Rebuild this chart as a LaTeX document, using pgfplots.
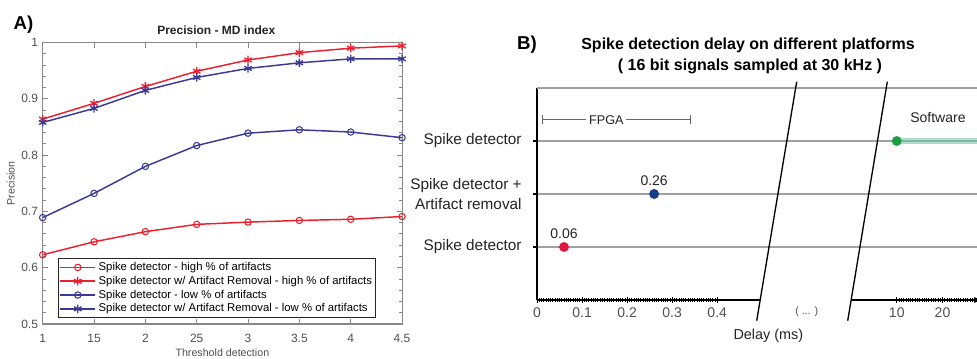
\documentclass[border=0pt]{standalone}
\usepackage{pgfplots}
\pgfplotsset{compat=1.18}
\usepackage{fontspec}
\setmainfont{Liberation Sans}
\setsansfont{Liberation Sans}
\definecolor{cred}{RGB}{236,32,44}
\definecolor{cblue}{RGB}{58,58,150}
\definecolor{pred}{RGB}{222,24,62}
\definecolor{pblue}{RGB}{26,58,140}
\definecolor{pgreen}{RGB}{30,160,64}
\definecolor{bandc}{RGB}{120,196,168}
\definecolor{gridc}{RGB}{160,160,160}
\definecolor{axgray}{RGB}{135,135,135}
\definecolor{lblgray}{RGB}{80,80,80}
\definecolor{txt}{RGB}{35,35,35}
\begin{document}
\begin{tikzpicture}[x=0.75pt,y=0.75pt]
\path[use as bounding box] (0,0) rectangle (977,358);
\clip (0,0) rectangle (977,358);
% ---------------- Panel A ----------------
\begin{axis}[
  at={(32.025pt,25.5pt)}, anchor=south west,
  scale only axis, width=269.5pt, height=211.1pt,
  xmin=1, xmax=4.5, ymin=0.5, ymax=1,
  xtick={1,1.5,2,2.5,3,3.5,4,4.5},
  xticklabels={1,15,2,25,3,3.5,4,4.5},
  ytick={0.5,0.6,0.7,0.8,0.9,1},
  yticklabels={0.5,0.6,0.7,0.8,0.9,1},
  minor y tick num=4,
  /pgf/number format/assume math mode=true,
  axis line style={axgray, line width=0.8pt},
  tick style={axgray, line width=0.7pt},
  major tick length=4pt, minor tick length=2.5pt,
  tick align=inside,
  ticklabel style={font=\fontsize{9}{10}\selectfont, text=lblgray},
  xticklabel style={yshift=-4pt},
  xlabel={Threshold detection}, ylabel={Precision},
  label style={font=\fontsize{8}{9}\selectfont, text=lblgray},
  xlabel style={yshift=2.5pt},
  ylabel style={yshift=-2pt},
  legend style={at={(0.043,0.021)}, anchor=south west,
    font=\fontsize{8.5}{9.5}\selectfont, draw=black!85, line width=0.6pt,
    inner sep=0.8pt, row sep=-1.3pt, cells={anchor=west}},
  legend image code/.code={\draw[mark repeat=2,mark phase=2,#1] plot coordinates {(0cm,0cm) (0.46cm,0cm) (0.92cm,0cm)};},
]
\addplot[cred, line width=1.1pt, mark=o, mark size=2.4pt, mark options={line width=0.8pt}] coordinates {
 (1,0.623) (1.5,0.646) (2,0.664) (2.5,0.677) (3,0.681) (3.5,0.684) (4,0.686) (4.5,0.691)};
\addlegendentry{Spike detector - high \% of artifacts}
\addplot[cred, line width=1.1pt, mark=asterisk, mark size=3.2pt, mark options={line width=1pt}] coordinates {
 (1,0.864) (1.5,0.892) (2,0.922) (2.5,0.949) (3,0.969) (3.5,0.982) (4,0.990) (4.5,0.994)};
\addlegendentry{Spike detector w/ Artifact Removal - high \% of artifacts}
\addplot[cblue, line width=1.1pt, mark=o, mark size=2.4pt, mark options={line width=0.8pt}] coordinates {
 (1,0.689) (1.5,0.732) (2,0.780) (2.5,0.817) (3,0.839) (3.5,0.845) (4,0.841) (4.5,0.831)};
\addlegendentry{Spike detector - low \% of artifacts}
\addplot[cblue, line width=1.1pt, mark=asterisk, mark size=3.2pt, mark options={line width=1pt}] coordinates {
 (1,0.858) (1.5,0.883) (2,0.915) (2.5,0.938) (3,0.954) (3.5,0.964) (4,0.971) (4.5,0.971)};
\addlegendentry{Spike detector w/ Artifact Removal - low \% of artifacts}
\end{axis}
\node[font=\bfseries\fontsize{9}{10}\selectfont, text=txt] at (216.3,328) {Precision - MD index};
\node[font=\bfseries\fontsize{14}{16}\selectfont] at (23.5,333.5) {A)};
% ---------------- Panel B ----------------
\begin{axis}[
  at={(402.75pt,43.5pt)}, anchor=south west,
  scale only axis, width=330pt, height=159pt,
  xmin=0, xmax=1, ymin=0, ymax=4,
  axis x line=none, axis y line=left,
  axis line style={-, black, line width=1.1pt},
  xtick=\empty,
  ytick={1,2,3},
  yticklabels={Spike detector,{Spike detector +\\Artifact removal},Spike detector},
  yticklabel style={align=right, font=\fontsize{11.5}{15}\selectfont, text=txt, xshift=-5pt},
  ymajorgrids, grid style={gridc, line width=0.8pt},
  extra y ticks={4}, extra y tick labels={},
  extra y tick style={major tick length=0pt},
  tick align=outside, major tick length=3pt,
  ytick style={black, line width=0.8pt},
]
\end{axis}
\begin{axis}[
  at={(402.75pt,43.5pt)}, anchor=south west,
  scale only axis, width=167.25pt, height=159pt,
  xmin=0, xmax=0.495, ymin=0, ymax=4,
  axis y line=none, axis x line=bottom,
  axis line style={-, black, line width=1pt},
  xtick={0,0.1,0.2,0.3,0.4},
  xticklabels={0,0.1,0.2,0.3,0.4},
  minor x tick num=19,
  tick align=center, major tick length=5pt, minor tick length=3pt,
  tick style={black, line width=0.5pt},
  xticklabel style={font=\fontsize{10.5}{12}\selectfont, text=lblgray},
  ytick=\empty,
  clip=false,
]
\addplot[only marks, mark=*, mark size=3.5pt, pred] coordinates {(0.06,1)};
\addplot[only marks, mark=*, mark size=3.5pt, pblue] coordinates {(0.26,2)};
\node[above, font=\fontsize{10.5}{12}\selectfont, text=txt, yshift=3pt] at (axis cs:0.06,1) {0.06};
\node[above, font=\fontsize{10.5}{12}\selectfont, text=txt, yshift=3pt] at (axis cs:0.26,2) {0.26};
\draw[gray!80!black, line width=0.7pt, |-|] (axis cs:0.0104,3.4) -- (axis cs:0.341,3.4);
\node[fill=white, inner sep=2pt, font=\fontsize{9.5}{11}\selectfont, text=txt] at (axis cs:0.154,3.4) {FPGA};
\end{axis}
\begin{axis}[
  at={(638.25pt,43.5pt)}, anchor=south west,
  scale only axis, width=96.75pt, height=159pt,
  xmin=0, xmax=28.2, ymin=0, ymax=4,
  axis y line=none, axis x line=bottom,
  axis line style={black, line width=1pt},
  xtick={10,20,30},
  minor x tick num=19,
  tick align=center, major tick length=5pt, minor tick length=3pt,
  tick style={black, line width=0.5pt},
  xticklabel style={font=\fontsize{10.5}{12}\selectfont, text=lblgray},
  /pgf/number format/assume math mode=true,
  ytick=\empty,
  clip=false,
]
\addplot[bandc, opacity=0.6, line width=5pt] coordinates {(10,3) (32,3)};
\addplot[only marks, mark=*, mark size=3.5pt, pgreen] coordinates {(10,3)};
\node[font=\fontsize{10.5}{12}\selectfont, text=txt] at (axis cs:19,3.45) {Software};
\end{axis}
\draw[black, line width=1pt] (756.7,37.3) -- (796.7,276.3);
\draw[black, line width=1pt] (847.7,37.3) -- (887.3,276.3);
\node[font=\fontsize{8}{9}\selectfont, text=lblgray] at (806.7,46.3) {( ... )};
\node[font=\fontsize{10.8}{12}\selectfont, text=txt] at (768.3,22) {Delay (ms)};
\node[font=\bfseries\fontsize{12}{14}\selectfont, text=black] at (748,312.3) {Spike detection delay on different platforms};
\node[font=\bfseries\fontsize{12}{14}\selectfont, text=black] at (750,291.3) {( 16 bit signals sampled at 30 kHz )};
\node[font=\bfseries\fontsize{14}{16}\selectfont] at (527,313) {B)};
\end{tikzpicture}
\end{document}
